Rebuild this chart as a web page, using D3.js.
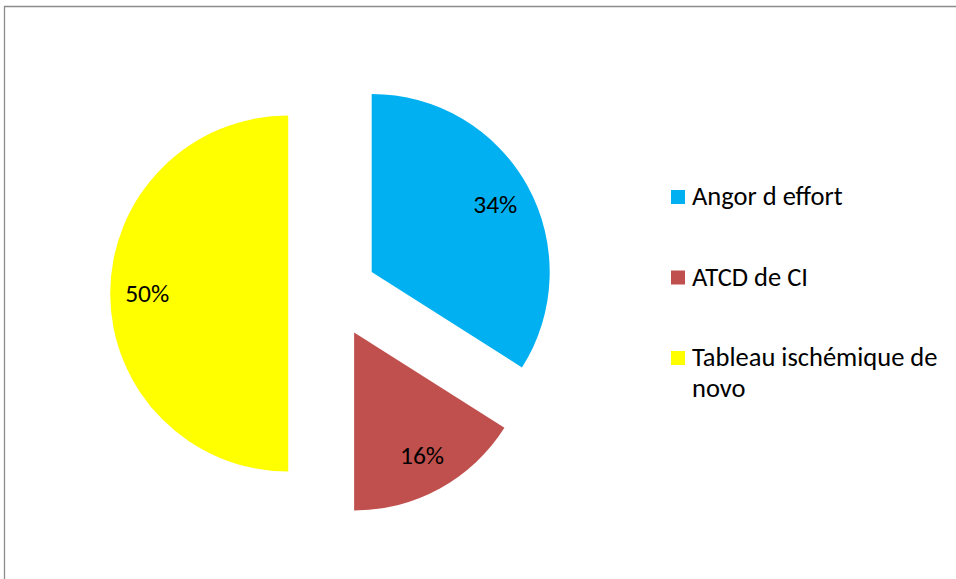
<!DOCTYPE html>
<html>
<head>
<meta charset="utf-8">
<script src="https://cdn.jsdelivr.net/npm/d3@7"></script>
<style>
  html, body { margin: 0; padding: 0; background: #fff; }
  svg { display: block; }
  text { font-family: Calibri, Carlito, "Open Sans", "Noto Sans", sans-serif; fill: #000; }
</style>
</head>
<body>
<svg id="chart" width="956" height="579"></svg>
<script>
// Chart data
const categories = ["Angor d effort", "ATCD de CI", "Tableau ischémique de novo"];
const values = [34, 16, 50];
const colors = ["#00B0F0", "#C0504D", "#FFFF00"];
// Legend labels as wrapped lines
const legendLines = [["Angor d effort"], ["ATCD de CI"], ["Tableau ischémique de", "novo"]];

const svg = d3.select("#chart");
const W = 956, H = 579;

// Chart area frame (top and left edges visible)
svg.append("path")
  .attr("d", `M4.5,${H} L4.5,6.5 L${W},6.5`)
  .attr("fill", "none")
  .attr("stroke", "#8c8c8c")
  .attr("stroke-width", 1.3);

const cx = 332.7, cy = 293.5;
const radius = 178;
const explode = 44.5;
const labelRadius = 141;

const total = d3.sum(values);
const pie = d3.pie().sort(null).value(d => d)(values);
const arc = d3.arc().innerRadius(0).outerRadius(radius);

const g = svg.append("g").attr("transform", `translate(${cx},${cy})`);

const slices = g.selectAll("g.slice")
  .data(pie)
  .join("g")
  .attr("class", "slice")
  .attr("transform", d => {
    const a = (d.startAngle + d.endAngle) / 2;
    return `translate(${Math.sin(a) * explode},${-Math.cos(a) * explode})`;
  });

slices.append("path")
  .attr("d", arc)
  .attr("fill", (d, i) => colors[i]);

slices.append("text")
  .attr("x", d => Math.sin((d.startAngle + d.endAngle) / 2) * labelRadius)
  .attr("y", d => -Math.cos((d.startAngle + d.endAngle) / 2) * labelRadius)
  .attr("text-anchor", "middle")
  .attr("dy", "0.33em")
  .attr("font-size", 25.5)
  .text(d => Math.round(d.value / total * 100) + "%");

// Legend
const legend = svg.append("g").attr("transform", "translate(671,205)");
const item = legend.selectAll("g")
  .data(categories)
  .join("g")
  .attr("transform", (d, i) => `translate(0,${i * 80.5})`);

item.append("rect")
  .attr("x", 0).attr("y", -15)
  .attr("width", 14).attr("height", 14)
  .attr("fill", (d, i) => colors[i]);

item.append("text")
  .attr("x", 21)
  .attr("y", 0)
  .attr("font-size", 26.5)
  .selectAll("tspan")
  .data((d, i) => legendLines[i])
  .join("tspan")
  .attr("x", 21)
  .attr("dy", (d, j) => j === 0 ? 0 : 31)
  .text(d => d);
</script>
</body>
</html>
